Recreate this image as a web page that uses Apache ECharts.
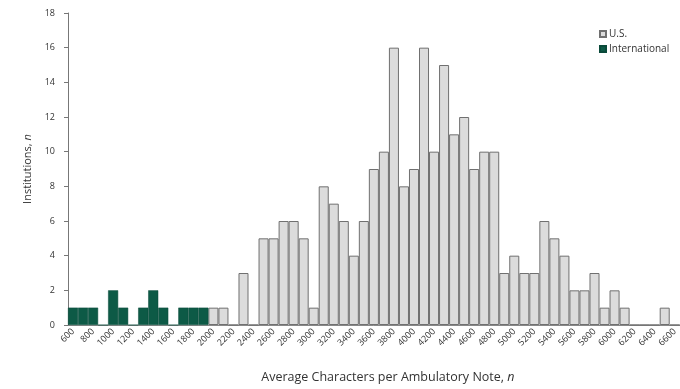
<!DOCTYPE html>
<html>
<head>
<meta charset="utf-8">
<script src="https://cdn.jsdelivr.net/npm/echarts@6/dist/echarts.min.js"></script>
<style>
html,body{margin:0;padding:0;background:#fff;}
#chart{width:680px;height:389px;}
</style>
</head>
<body>
<div id="chart"></div>
<script>
var categories = ['600','700','800','900','1000','1100','1200','1300','1400','1500','1600','1700','1800','1900',
  '2000','2100','2200','2300','2400','2500','2600','2700','2800','2900','3000','3100','3200','3300','3400','3500',
  '3600','3700','3800','3900','4000','4100','4200','4300','4400','4500','4600','4700','4800','4900','5000','5100',
  '5200','5300','5400','5500','5600','5700','5800','5900','6000','6100','6200','6300','6400','6500','6600'];

var usValues = ['-','-','-','-','-','-','-','-','-','-','-','-','-','-',
  1,1,0,3,0,5,5,6,6,5,1,8,7,6,4,6,
  9,10,16,8,9,16,10,15,11,12,9,10,10,3,4,3,
  3,6,5,4,2,2,3,1,2,1,0,0,0,1,0];

var intlValues = [1,1,1,0,2,1,0,1,2,1,0,1,1,1,
  '-','-','-','-','-','-','-','-','-','-','-','-','-','-','-','-',
  '-','-','-','-','-','-','-','-','-','-','-','-','-','-','-','-',
  '-','-','-','-','-','-','-','-','-','-','-','-','-','-','-'];

var yTicks = [0, 2, 4, 6, 8, 10, 12, 14, 16, 18];

var chart = echarts.init(document.getElementById('chart'));
var font = 'Open Sans';
chart.setOption({
  animation: false,
  backgroundColor: '#fff',
  textStyle: { fontFamily: font },
  legend: {
    orient: 'vertical',
    left: 594,
    top: 24,
    itemWidth: 6,
    itemHeight: 6,
    itemGap: 5,
    icon: 'rect',
    textStyle: { fontSize: 10, color: '#333', fontFamily: font, padding: [0, 0, 0, -2] },
    data: ['U.S.', 'International']
  },
  grid: { left: 68, top: 13, width: 616, bottom: 63 },
  xAxis: {
    type: 'category',
    data: categories,
    boundaryGap: true,
    name: 'Average Characters per Ambulatory Note, {i|n}',
    nameLocation: 'middle',
    nameGap: 46,
    nameTextStyle: {
      fontSize: 12.5, color: '#333', fontFamily: font, padding: [0, 0, 0, 28],
      rich: { i: { fontStyle: 'italic', fontSize: 12.5, color: '#333', fontFamily: font } }
    },
    axisLine: { show: true, lineStyle: { color: '#888', width: 1 } },
    axisTick: { show: false },
    axisLabel: {
      interval: 1,
      rotate: 45,
      fontSize: 9,
      color: '#333',
      margin: 5,
      fontFamily: font
    },
    splitLine: { show: false }
  },
  yAxis: {
    type: 'value',
    min: yTicks[0],
    max: yTicks[yTicks.length - 1],
    interval: 2,
    name: 'Institutions, {i|n}',
    nameLocation: 'middle',
    nameGap: 32,
    nameTextStyle: {
      fontSize: 11, color: '#333', fontFamily: font,
      rich: { i: { fontStyle: 'italic', fontSize: 11, color: '#333', fontFamily: font } }
    },
    axisLine: { show: true, lineStyle: { color: '#777', width: 1 } },
    axisTick: { show: true, inside: false, length: 4, lineStyle: { color: '#777' } },
    axisLabel: { fontSize: 9, color: '#333', margin: 13, fontFamily: font },
    splitLine: { show: false }
  },
  series: [
    {
      name: 'U.S.',
      type: 'bar',
      data: usValues,
      barGap: '-100%',
      barCategoryGap: '0%',
      itemStyle: { color: '#dcdcdc', borderColor: '#707070', borderWidth: 1 }
    },
    {
      name: 'International',
      type: 'bar',
      data: intlValues,
      barGap: '-100%',
      barCategoryGap: '0%',
      itemStyle: { color: '#0d5a46', borderColor: '#0a4a3a', borderWidth: 0.5 }
    }
  ]
});
</script>
</body>
</html>
